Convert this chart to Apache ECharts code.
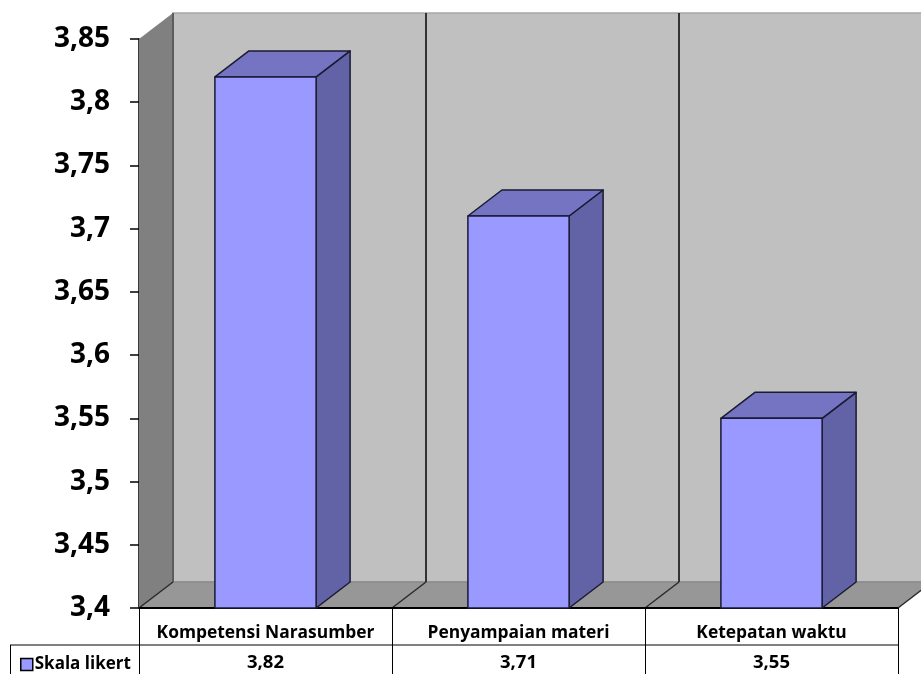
<!DOCTYPE html>
<html>
<head>
<meta charset="utf-8">
<script src="https://cdn.jsdelivr.net/npm/echarts@6/dist/echarts.min.js"></script>
<style>
  html, body { margin: 0; padding: 0; background: #ffffff; }
  #chart { width: 921px; height: 674px; }
</style>
</head>
<body>
<div id="chart"></div>
<script>
// Survey results on a 1–4 Likert scale
const categories = ['Kompetensi Narasumber', 'Penyampaian materi', 'Ketepatan waktu'];
const seriesName = 'Skala likert';
const scores = [3.82, 3.71, 3.55];
const yTicks = { min: 3.4, max: 3.85, step: 0.05 };

// Pseudo-3D depth offset (pixels) shared by walls and columns
const DEPTH_X = 34;
const DEPTH_Y = -26;
const FONT = '"Open Sans", Lato, sans-serif';

const fmt = v => String(+Number(v).toFixed(2)).replace('.', ',');

function renderFrame(params, api) {
  const cs = params.coordSys;
  const x0 = cs.x, x1 = cs.x + cs.width;
  const yT = cs.y, yB = cs.y + cs.height;
  const band = api.size([1, 0])[0];
  const n = categories.length;
  const dx = DEPTH_X, dy = DEPTH_Y;
  const children = [];

  // back wall
  children.push({ type: 'rect', shape: { x: x0 + dx, y: yT + dy, width: x1 - x0 + 40, height: yB - yT },
    style: { fill: '#c0c0c0', stroke: '#a6a6a6', lineWidth: 1.5 } });
  // left side wall
  children.push({ type: 'polygon', shape: { points: [[x0, yT], [x0 + dx, yT + dy], [x0 + dx, yB + dy], [x0, yB]] },
    style: { fill: '#808080' } });
  // floor
  children.push({ type: 'polygon', shape: { points: [[x0, yB], [x0 + dx, yB + dy], [x1 + dx, yB + dy], [x1, yB]] },
    style: { fill: '#979797' } });
  // floor / back-wall seam
  children.push({ type: 'line', shape: { x1: x0 + dx, y1: yB + dy, x2: x1 + dx, y2: yB + dy },
    style: { stroke: '#8a8a8a', lineWidth: 1.5 } });
  // corner edge between side wall and back wall
  children.push({ type: 'line', shape: { x1: x0 + dx, y1: yT + dy, x2: x0 + dx, y2: yB + dy },
    style: { stroke: '#5c5c5c', lineWidth: 2 } });
  // category dividers on back wall
  for (let k = 1; k < n; k++) {
    const bx = x0 + dx + k * band;
    children.push({ type: 'line', shape: { x1: bx, y1: yT + dy, x2: bx, y2: yB + dy },
      style: { stroke: '#333333', lineWidth: 2 } });
  }
  // category dividers across the floor
  for (let k = 0; k <= n; k++) {
    const fx = x0 + k * band;
    children.push({ type: 'line', shape: { x1: fx, y1: yB, x2: fx + dx, y2: yB + dy },
      style: { stroke: '#2a2a2a', lineWidth: 1.5 } });
  }

  // data table grid
  const rowSplit = yB + 37;
  const tableBottom = yB + 80;
  const legendLeft = 10;
  children.push({ type: 'line', shape: { x1: x0, y1: yB, x2: x1, y2: yB },
    style: { stroke: '#000000', lineWidth: 2 } });
  children.push({ type: 'line', shape: { x1: legendLeft, y1: rowSplit, x2: x1, y2: rowSplit },
    style: { stroke: '#000000', lineWidth: 1 } });
  for (let k = 0; k <= n; k++) {
    const tx = Math.round(x0 + k * band) + 0.5;
    children.push({ type: 'line', shape: { x1: tx, y1: yB, x2: tx, y2: tableBottom },
      style: { stroke: '#000000', lineWidth: 1 } });
  }
  children.push({ type: 'line', shape: { x1: legendLeft + 0.5, y1: rowSplit, x2: legendLeft + 0.5, y2: tableBottom },
    style: { stroke: '#000000', lineWidth: 1 } });

  return { type: 'group', silent: true, children };
}

function renderColumn(params, api) {
  const idx = api.value(0);
  const top = api.coord([idx, api.value(1)]);
  const base = api.coord([idx, yTicks.min]);
  const band = api.size([1, 0])[0];
  const w = band * 0.4;
  const xl = top[0] - w / 2, xr = top[0] + w / 2;
  const yt = top[1], yb = base[1];
  const dx = DEPTH_X, dy = DEPTH_Y;
  const edge = { stroke: '#1a1a33', lineWidth: 1.5, lineJoin: 'round' };
  return {
    type: 'group',
    children: [
      { type: 'polygon', shape: { points: [[xr, yt], [xr + dx, yt + dy], [xr + dx, yb + dy], [xr, yb]] },
        style: Object.assign({ fill: '#6262a6' }, edge) },
      { type: 'polygon', shape: { points: [[xl, yt], [xl + dx, yt + dy], [xr + dx, yt + dy], [xr, yt]] },
        style: Object.assign({ fill: '#7474c2' }, edge) },
      { type: 'rect', shape: { x: xl, y: yt, width: w, height: yb - yt },
        style: Object.assign({ fill: '#9999ff' }, edge) }
    ]
  };
}

const chart = echarts.init(document.getElementById('chart'), null, { renderer: 'canvas' });

chart.setOption({
  animation: false,
  backgroundColor: '#ffffff',
  grid: { left: 139, top: 39, right: 23, bottom: 66, containLabel: false },
  legend: {
    data: [seriesName],
    left: 15, top: 651,
    itemWidth: 12, itemHeight: 12, itemGap: 4,
    icon: 'rect',
    itemStyle: { borderColor: '#000000', borderWidth: 1.5 },
    textStyle: { fontFamily: FONT, fontWeight: 'bold', fontSize: 17, color: '#000000', padding: [0, 0, 0, -3] },
    selectedMode: false
  },
  xAxis: {
    type: 'category',
    data: categories,
    axisLine: { show: false },
    axisTick: { show: false },
    splitLine: { show: false },
    axisLabel: {
      interval: 0,
      margin: 10,
      verticalAlign: 'top',
      formatter: (value, i) => '{c|' + value + '}\n{v|' + fmt(scores[i]) + '}',
      rich: {
        c: { fontFamily: FONT, fontWeight: 'bold', fontSize: 17.4, lineHeight: 30, color: '#000000' },
        v: { fontFamily: FONT, fontWeight: 'bold', fontSize: 18.5, lineHeight: 30, color: '#000000' }
      }
    }
  },
  yAxis: {
    type: 'value',
    min: yTicks.min,
    max: yTicks.max,
    interval: yTicks.step,
    axisLine: { show: true, lineStyle: { color: '#3a3a3a', width: 2 } },
    axisTick: { show: true, length: 9, lineStyle: { color: '#000000', width: 1.5 } },
    splitLine: { show: false },
    axisLabel: {
      margin: 29,
      formatter: v => fmt(v),
      fontFamily: FONT, fontWeight: 'bold', fontSize: 28, color: '#000000'
    }
  },
  series: [
    {
      type: 'custom',
      name: 'frame',
      silent: true,
      z: 1,
      renderItem: renderFrame,
      data: [[0, yTicks.min]],
      clip: false
    },
    {
      type: 'custom',
      name: seriesName,
      z: 2,
      itemStyle: { color: '#9999ff' },
      renderItem: renderColumn,
      data: scores.map((v, i) => [i, v]),
      clip: false
    }
  ]
});
</script>
</body>
</html>
